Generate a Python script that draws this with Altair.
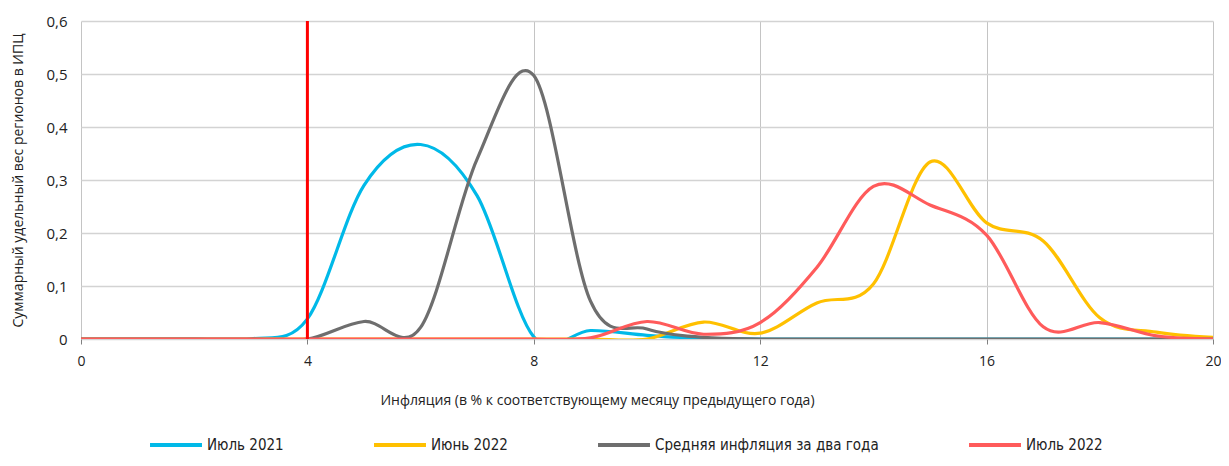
import altair as alt
import pandas as pd

x_vals = list(range(0, 21))
series_names = ["Июль 2021", "Июнь 2022", "Средняя инфляция за два года", "Июль 2022"]
jul2021 = [0, 0, 0, 0, 0.038, 0.29, 0.367, 0.27, 0.004, 0.016, 0.007, 0.001, 0, 0, 0, 0, 0, 0, 0, 0, 0]
jun2022 = [0, 0, 0, 0, 0, 0, 0, 0, 0, 0, 0.0, 0.032, 0.011, 0.068, 0.104, 0.334, 0.219, 0.185, 0.04, 0.013, 0.003]
avg2y = [0, 0, 0, 0, 0, 0.033, 0.022, 0.34, 0.497, 0.072, 0.019, 0.003, 0, 0, 0, 0, 0, 0, 0, 0, 0]
jul2022 = [0, 0, 0, 0, 0, 0, 0, 0, 0, 0.002, 0.033, 0.009, 0.031, 0.135, 0.288, 0.253, 0.196, 0.023, 0.031, 0.006, 0]
target_x = [4]
colors = ["#00B9E8", "#FFC000", "#6E6E6E", "#FF5B5B"]
y_ticks = [0, 0.1, 0.2, 0.3, 0.4, 0.5, 0.6]
x_ticks = [0, 4, 8, 12, 16, 20]

rows = []
for name, vals in zip(series_names, [jul2021, jun2022, avg2y, jul2022]):
    for xv, yv in zip(x_vals, vals):
        rows.append({"x": xv, "y": yv, "s": name})
df = pd.DataFrame(rows)

axis_font = "Open Sans"
legend_font = "'Liberation Sans Narrow', 'DejaVu Sans Condensed', 'Roboto', sans-serif"

lines = alt.Chart(df).mark_line(interpolate="cardinal", strokeWidth=3.2, clip=True).encode(
    x=alt.X("x:Q", scale=alt.Scale(domain=[0, 20], nice=False),
            axis=alt.Axis(values=x_ticks, format="d", labelFlush=False,
                          title="Инфляция (в % к соответствующему месяцу предыдущего года)",
                          grid=True, gridColor="#C4C4C4", gridWidth=1,
                          domain=False, ticks=True, tickSize=5, tickColor="#808080",
                          labelFont=axis_font, labelFontSize=14, labelColor="#222222", labelPadding=10,
                          titleFont=axis_font, titleFontSize=14, titleFontWeight="normal", titleColor="#222222",
                          titleX=516, titleY=61, titleBaseline="middle")),
    y=alt.Y("y:Q", scale=alt.Scale(domain=[0, 0.6], nice=False),
            axis=alt.Axis(values=y_ticks, title="Суммарный удельный вес регионов в ИПЦ",
                          labelExpr="replace(format(datum.value, '.1~f'), '.', ',')",
                          grid=True, gridColor="#D3D3D3", gridWidth=1.5,
                          domain=False, ticks=False, labelPadding=14,
                          labelFont=axis_font, labelFontSize=15, labelColor="#222222",
                          titleFont=axis_font, titleFontSize=14, titleFontWeight="normal", titleColor="#222222",
                          titleAngle=270, titleX=-63, titleY=159, titleBaseline="middle", titleAlign="center")),
    color=alt.Color("s:N", scale=alt.Scale(domain=series_names, range=colors),
                    legend=alt.Legend(title=None, orient="none", legendX=67, legendY=396,
                                      direction="horizontal", columns=4, columnPadding=82,
                                      symbolType="stroke", symbolSize=2700, symbolStrokeWidth=4,
                                      labelFont=legend_font, labelFontSize=15, labelColor="#222222",
                                      labelOffset=3, labelLimit=400)),
    order=alt.Order("x:Q"),
)

rule_df = pd.DataFrame({"x": target_x, "y0": [0], "y1": [0.6]})
rule = alt.Chart(rule_df).mark_rule(color="#FF0000", strokeWidth=3).encode(
    x="x:Q", y="y0:Q", y2="y1:Q")

chart = alt.layer(lines, rule).properties(
    width=1132, height=318,
    autosize=alt.AutoSizeParams(type="none"),
    padding={"left": 73, "top": 13, "right": 8, "bottom": 119},
).configure_view(stroke=None)

chart.save("out.html", embed_options={"renderer": "svg", "actions": False})
